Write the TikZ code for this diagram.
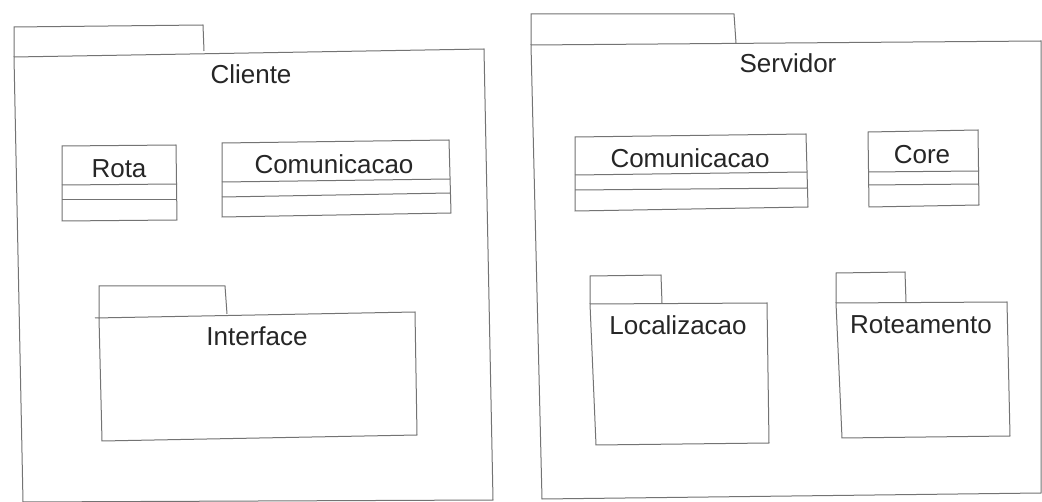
\documentclass[tikz,border=0pt]{standalone}
\usepackage{fontspec}
\setmainfont{Liberation Sans}
\begin{document}
\begin{tikzpicture}[x=1pt,y=-1pt,
  edge/.style={draw=black!55,line width=1pt,line join=miter},
  lbl/.style={text=black!85,font=\fontsize{26}{30}\selectfont,inner sep=0pt,anchor=center}]
\useasboundingbox (0,0) rectangle (1042,502);
\fill[white] (0,0) rectangle (1042,502);
% Cliente package
\draw[edge] (14,57) -- (14,27) -- (203,25) -- (204,51);
\draw[edge] (14,57) -- (484,49) -- (493,500) -- (23,502) -- cycle;
\node[lbl] (cliente) at (251,74) {Cliente};
% Rota class
\draw[edge] (62,146) -- (176,145) -- (177,220) -- (62,221) -- cycle;
\draw[edge] (62,185) -- (177,184);
\draw[edge] (62,200) -- (177,200);
\node[lbl] (rota) at (119,169) {Rota};
% Comunicacao (cliente)
\draw[edge] (222,143) -- (449,140) -- (451,213) -- (222,217) -- cycle;
\draw[edge] (222,182) -- (450,179);
\draw[edge] (222,197) -- (450,193);
\node[lbl] (comC) at (334,164) {Comunicacao};
% Interface package
\draw[edge] (99,318) -- (99,286) -- (225,286) -- (227,314);
\draw[edge] (95,318) -- (415,312) -- (417,435) -- (102,441) -- (99,318);
\node[lbl] (interface) at (257,336) {Interface};
% Servidor package
\draw[edge] (531,45) -- (531,14) -- (734,14) -- (736,43);
\draw[edge] (531,45) -- (1041,41) -- (1041,493) -- (542,499) -- cycle;
\node[lbl] (servidor) at (788,63) {Servidor};
% Comunicacao (servidor)
\draw[edge] (575,137) -- (806,134) -- (808,207) -- (575,211) -- cycle;
\draw[edge] (575,175) -- (807,172);
\draw[edge] (575,190) -- (807,188);
\node[lbl] (comS) at (690,158) {Comunicacao};
% Core class
\draw[edge] (868,132) -- (978,130) -- (979,205) -- (869,207) -- cycle;
\draw[edge] (868,172) -- (979,171);
\draw[edge] (868,185) -- (979,184);
\node[lbl] (core) at (922,155) {Core};
% Localizacao package
\draw[edge] (590,304) -- (590,276) -- (661,275) -- (662,303);
\draw[edge] (590,304) -- (767,303) -- (769,443) -- (596,445) -- cycle;
\node[lbl] (loc) at (678,325) {Localizacao};
% Roteamento package
\draw[edge] (836,303) -- (836,273) -- (905,272) -- (906,302);
\draw[edge] (836,303) -- (1007,302) -- (1010,436) -- (842,438) -- cycle;
\node[lbl] (rot) at (921,325) {Roteamento};
\end{tikzpicture}
\end{document}
